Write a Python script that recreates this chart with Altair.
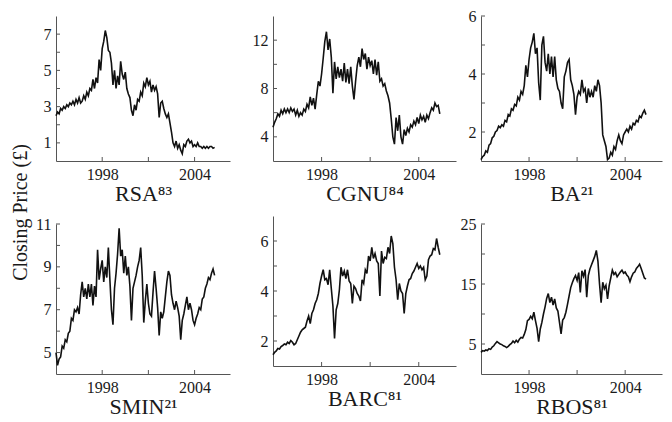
import altair as alt
import pandas as pd

YEARS = [
    1995.0, 1995.1, 1995.2, 1995.3, 1995.4, 1995.5, 1995.6, 1995.7, 1995.8, 1995.9,
    1996.0, 1996.1, 1996.2, 1996.3, 1996.4, 1996.5, 1996.6, 1996.7, 1996.8, 1996.9,
    1997.0, 1997.1, 1997.2, 1997.3, 1997.4, 1997.5, 1997.6, 1997.7, 1997.8, 1997.9,
    1998.0, 1998.1, 1998.2, 1998.3, 1998.4, 1998.5, 1998.6, 1998.7, 1998.8, 1998.9,
    1999.0, 1999.1, 1999.2, 1999.3, 1999.4, 1999.5, 1999.6, 1999.7, 1999.8, 1999.9,
    2000.0, 2000.1, 2000.2, 2000.3, 2000.4, 2000.5, 2000.6, 2000.7, 2000.8, 2000.9,
    2001.0, 2001.1, 2001.2, 2001.3, 2001.4, 2001.5, 2001.6, 2001.7, 2001.8, 2001.9,
    2002.0, 2002.1, 2002.2, 2002.3, 2002.4, 2002.5, 2002.6, 2002.7, 2002.8, 2002.9,
    2003.0, 2003.1, 2003.2, 2003.3, 2003.4, 2003.5, 2003.6, 2003.7, 2003.8, 2003.9,
    2004.0, 2004.1, 2004.2, 2004.3, 2004.4, 2004.5, 2004.6, 2004.7, 2004.8, 2004.9,
    2005.0, 2005.1, 2005.2, 2005.3,
]

RSA = [
    2.5, 2.7, 2.6, 2.9, 2.8, 3.0, 2.9, 3.1, 3.0, 3.2,
    3.1, 3.3, 3.1, 3.4, 3.2, 3.5, 3.2, 3.3, 3.6, 3.4,
    3.8, 3.6, 4.0, 3.9, 4.5, 4.0, 4.6, 4.3, 5.6, 5.0,
    6.2, 6.6, 7.2, 6.8, 6.1, 6.0, 5.4, 4.2, 5.0, 4.0,
    4.7, 4.2, 5.5, 4.8, 4.5, 4.9, 4.0, 3.7, 3.5, 2.8,
    2.5, 3.1, 2.8, 3.4, 3.3, 3.8, 3.6, 4.3, 4.1, 4.6,
    4.2, 4.4, 3.8, 4.2, 3.9, 4.1, 3.7, 2.4, 3.2, 3.3,
    2.9, 2.6, 2.4, 2.6, 2.1, 1.6, 1.0, 0.8, 1.1, 0.7,
    0.9, 0.6, 0.4, 0.9, 0.8, 1.1, 1.2, 1.0, 1.1, 0.8,
    0.9, 0.8, 1.0, 0.8, 0.8, 0.7, 0.8, 0.7, 0.8, 0.7,
    0.8, 0.8, 0.7, 0.75,
]

CGNU = [
    4.8, 5.2, 5.5, 5.9, 5.7, 6.2, 5.9, 6.3, 6.0, 6.3,
    6.0, 6.4, 6.1, 6.3, 5.8, 6.2, 5.7, 6.0, 5.8, 6.3,
    6.1, 6.7, 6.4, 7.3, 6.6, 7.2, 6.3, 7.5, 8.6, 8.2,
    9.2, 10.5, 11.9, 12.7, 11.2, 12.1, 10.6, 7.6, 10.2, 8.8,
    9.8, 8.9, 9.6, 8.6, 10.1, 8.5, 9.6, 8.4, 9.8, 8.2,
    7.1, 8.6, 9.9, 10.6, 9.8, 11.3, 10.4, 10.9, 9.6, 10.6,
    9.9, 10.3, 9.2, 10.4, 9.1, 10.2, 8.6, 8.8, 8.2, 8.4,
    7.8, 7.4, 6.8, 5.5, 4.0, 3.4, 5.6, 4.5, 5.8, 4.0,
    3.4, 4.6, 4.1, 4.7, 4.4, 5.0, 4.8, 5.3, 5.0, 5.6,
    5.1, 5.8, 5.4, 5.7, 5.2, 5.8, 5.5, 6.0, 6.4, 6.2,
    6.8, 6.5, 6.6, 5.9,
]

BA = [
    1.05, 1.15, 1.2, 1.35, 1.3, 1.55, 1.6, 1.8, 1.85, 2.0,
    2.05, 2.2, 2.15, 2.25, 2.2, 2.4, 2.35, 2.6, 2.55, 2.8,
    2.75, 2.95, 2.9, 3.2, 3.1, 3.4, 3.3, 3.6, 4.3, 3.9,
    4.5, 4.9, 5.1, 5.4, 4.7, 4.9, 3.7, 3.1, 5.0, 5.3,
    4.4, 4.1, 4.7, 4.0, 4.6, 3.9, 4.6, 3.8, 3.5, 3.4,
    3.0, 2.8, 3.9, 4.1, 4.4, 4.5, 3.8, 3.6, 3.3, 2.6,
    3.2, 3.4, 3.3, 3.8, 3.4, 3.5, 3.0, 3.5, 3.2, 3.4,
    3.2, 3.6, 3.4, 3.8, 3.6, 3.0, 1.9, 1.7, 1.5, 1.05,
    1.1, 1.3, 1.2, 1.5, 1.4, 1.7, 1.9, 1.7, 1.6, 1.9,
    2.0, 2.1, 2.0, 2.2, 2.1, 2.3, 2.25, 2.4, 2.35, 2.55,
    2.5, 2.65, 2.75, 2.6,
]

SMIN = [
    5.0, 4.4, 4.7, 4.8, 5.3, 5.2, 5.6, 5.5, 5.9, 6.0,
    6.6, 6.5, 7.0, 6.9, 7.1, 6.8, 7.7, 8.3, 7.6, 8.0,
    7.5, 8.2, 7.6, 8.2, 7.2, 8.1, 7.6, 9.8, 8.4, 8.9,
    9.3, 8.3, 9.0, 8.5, 9.9, 8.4, 7.0, 6.3, 8.0, 8.7,
    9.6, 10.8, 9.5, 9.8, 8.7, 9.5, 8.6, 9.0, 8.1, 6.5,
    8.0, 8.3, 8.6, 9.0, 9.3, 9.9, 8.6, 6.4, 7.4, 8.2,
    7.3, 6.8, 6.7, 7.8, 8.8, 8.0, 7.1, 5.8, 6.9, 6.6,
    6.9, 7.6, 8.3, 8.8, 8.6, 7.7, 7.3, 7.0, 7.4, 7.1,
    6.7, 5.6, 6.5, 6.8, 7.2, 7.6, 7.0, 7.3, 7.0, 6.5,
    6.3, 6.6, 6.8, 7.1, 7.0, 7.5, 7.6, 8.0, 8.2, 8.5,
    8.4, 8.7, 8.9, 8.6,
]

BARC = [
    1.45, 1.55, 1.6, 1.7, 1.68, 1.78, 1.82, 1.88, 1.85, 1.95,
    1.9, 2.02, 1.95, 1.85, 1.9, 2.05, 2.2, 2.35, 2.45, 2.5,
    2.55, 2.8, 3.0, 2.7, 3.1, 3.25, 3.5, 3.65, 3.9, 4.3,
    4.6, 4.85, 4.45, 4.5, 4.25, 4.85, 4.1, 3.4, 2.1, 3.25,
    3.5, 4.05, 4.95, 4.6, 4.8, 4.5, 4.85, 4.4, 4.3, 3.5,
    4.2, 4.1, 3.9, 3.8, 3.6, 4.45, 4.3, 4.85, 4.7, 5.4,
    5.2, 5.75, 5.3, 5.5, 5.2, 5.1, 3.8, 5.6, 5.1, 5.35,
    5.3, 5.75, 5.5, 6.2, 5.9, 4.95, 4.45, 3.65, 4.3, 4.0,
    3.9, 3.1, 3.9, 4.2, 4.45, 4.5, 4.7, 4.8, 4.95, 5.1,
    4.9, 5.0, 4.85, 4.95, 4.45, 4.6, 5.25, 5.4, 5.45, 5.7,
    5.65, 6.1, 5.75, 5.45,
]

RBOS = [
    3.6, 3.9, 3.8, 4.0, 3.9, 4.2, 4.1, 4.5, 4.7, 5.1,
    5.4, 5.2, 5.0, 4.9, 4.7, 4.6, 4.4, 4.6, 4.9, 5.1,
    5.5, 5.2, 5.6, 5.3, 5.8, 6.1, 6.0, 6.6, 7.4, 8.9,
    9.1, 9.6, 9.2, 10.3, 8.9, 7.6, 5.4, 7.5, 8.6, 10.0,
    11.2, 12.6, 13.4, 11.9, 12.8, 11.5, 12.5, 11.0, 10.5, 8.6,
    6.7, 9.0, 9.4, 10.3, 11.6, 13.0, 14.4, 15.2, 15.9, 16.4,
    15.6, 16.9, 13.6, 17.2, 16.3, 17.4, 12.8, 16.4, 17.5, 18.2,
    18.9, 19.6, 20.6, 18.8, 15.0, 11.9, 15.3, 14.2, 14.8, 12.5,
    14.7, 16.0, 17.3, 16.6, 16.9, 16.2, 16.6, 17.0, 17.3, 16.8,
    17.0, 16.5, 16.2, 15.4, 16.2, 16.8, 17.0, 17.6, 17.9, 18.3,
    17.6, 16.8, 16.0, 15.8,
]

X_DOMAIN = [1995, 2006.3]
X_TICKS = [1998, 2001, 2004]
X_LABELS = [1998, 2004]

PANELS = {
    "RSA": dict(sup="\u2078\u00b3", values=RSA, domain=[0, 8],
                labels=[1, 3, 5, 7], ticks=[1, 2, 3, 4, 5, 6, 7], width=174),
    "CGNU": dict(sup="\u2078\u2074", values=CGNU, domain=[2, 14],
                 labels=[4, 8, 12], ticks=[4, 6, 8, 10, 12], width=183),
    "BA": dict(sup="\u00b2\u00b9", values=BA, domain=[1, 6],
               labels=[2, 4, 6], ticks=[2, 3, 4, 5, 6], width=181),
    "SMIN": dict(sup="\u00b2\u00b9", values=SMIN, domain=[4, 11],
                 labels=[5, 7, 9, 11], ticks=[5, 6, 7, 8, 9, 10, 11], width=174),
    "BARC": dict(sup="\u2078\u00b9", values=BARC, domain=[1, 7],
                 labels=[2, 4, 6], ticks=[2, 3, 4, 5, 6], width=183),
    "RBOS": dict(sup="\u2078\u00b9", values=RBOS, domain=[0, 25],
                 labels=[5, 15, 25], ticks=[5, 10, 15, 20, 25], width=181),
}

H_TOP = 145
H_BOTTOM = 150
AXIS_COLOR = "#555555"
TEXT_COLOR = "#1a1a1a"
FONT = "Liberation Serif"


def panel(name, h):
    p = PANELS[name]
    line_df = pd.DataFrame({"year": YEARS, "price": p["values"]})
    ytick_df = pd.DataFrame({"price": p["ticks"]})
    xtick_df = pd.DataFrame({"year": X_TICKS})
    xs = alt.Scale(domain=X_DOMAIN, nice=False, zero=False)
    ys = alt.Scale(domain=p["domain"], nice=False, zero=False)
    line = alt.Chart(line_df).mark_line(color="#111111", strokeWidth=1.6).encode(
        x=alt.X("year:Q", scale=xs,
                axis=alt.Axis(values=X_LABELS, format="d", title=name + p["sup"],
                              labelPadding=5, titlePadding=1, titleFontSize=22,
                              titleFont=FONT, titleFontWeight="normal",
                              titleColor=TEXT_COLOR)),
        y=alt.Y("price:Q", scale=ys,
                axis=alt.Axis(values=p["labels"], title=None, labelPadding=5)),
    )
    yt = alt.Chart(ytick_df).mark_rule(color=AXIS_COLOR).encode(
        y="price:Q", x=alt.value(0), x2=alt.value(4))
    xt = alt.Chart(xtick_df).mark_rule(color=AXIS_COLOR).encode(
        x="year:Q", y=alt.value(h), y2=alt.value(h - 4))
    return alt.layer(line, yt, xt).properties(width=p["width"], height=h)


VS = 12
col1 = alt.vconcat(panel("RSA", H_TOP), panel("SMIN", H_BOTTOM), spacing=VS)
col2 = alt.vconcat(panel("CGNU", H_TOP), panel("BARC", H_BOTTOM), spacing=VS)
col3 = alt.vconcat(panel("BA", H_TOP), panel("RBOS", H_BOTTOM), spacing=VS)

chart = alt.hconcat(
    alt.hconcat(col1, col2, spacing=22), col3, spacing=4
).properties(
    title=alt.TitleParams("Closing Price (£)", orient="left", anchor="middle",
                          font=FONT, fontSize=20, fontWeight="normal",
                          color=TEXT_COLOR, offset=5),
    padding={"left": 2, "top": 0, "right": 2, "bottom": 2},
).configure_view(stroke=None).configure_axis(
    domainColor=AXIS_COLOR, domainWidth=1, labelColor=TEXT_COLOR,
    labelFont=FONT, labelFontSize=16, grid=False, ticks=False,
)

chart.save("out.html", embed_options={"renderer": "svg", "actions": False})
